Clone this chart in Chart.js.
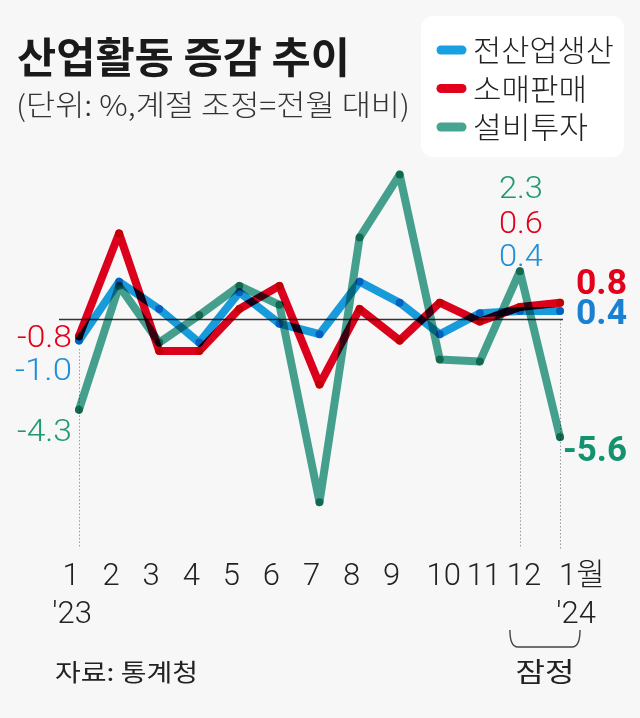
<!DOCTYPE html>
<html>
<head>
<meta charset="utf-8">
<script src="https://cdn.jsdelivr.net/npm/chart.js@4.4.1/dist/chart.umd.min.js"></script>
<style>
html,body{margin:0;padding:0;background:#f7f7f7;}
canvas{display:block;}
</style>
</head>
<body>
<canvas id="c" width="640" height="718"></canvas>
<script>
// ---- data ----
const categories = ['1','2','3','4','5','6','7','8','9','10','11','12','1월'];
const yearLabels = ["'23",'','','','','','','','','','','',"'24"];
const seriesNames = ['전산업생산','소매판매','설비투자'];
const production = [-1.0, 1.8, 0.5, -1.1, 1.3, -0.2, -0.7, 1.8, 0.8, -0.7, 0.3, 0.4, 0.4];
const retail     = [-0.8, 4.1, -1.5, -1.5, 0.5, 1.6, -3.1, 0.5, -1.0, 0.8, -0.1, 0.6, 0.8];
const investment = [-4.3, 1.6, -1.1, 0.2, 1.6, 0.7, -8.7, 3.9, 6.9, -1.9, -2.0, 2.3, -5.6];
const titleText = '산업활동 증감 추이';
const subtitleText = '(단위: %,계절 조정=전월 대비)';
const sourceText = '자료: 통계청';
const provisionalText = '잠정';

// ---- style ----
const C_BLUE = '#18a0e2', C_RED = '#e2001b', C_GREEN = '#46a591';
const T_BLUE = '#1e8fd8', T_RED = '#e2001a', T_GREEN = '#1f9a70';
const B_BLUE = '#1a80d2', B_GREEN = '#12926e';
const NUM = "Roboto, 'Noto Sans CJK KR', sans-serif";
const KR = "'Noto Sans CJK KR', 'Noto Sans', sans-serif";

function txt(ctx, s, x, y, font, color, align, fitW) {
  ctx.save();
  ctx.font = font;
  ctx.fillStyle = color;
  ctx.textBaseline = 'middle';
  ctx.textAlign = 'left';
  const w = ctx.measureText(s).width;
  let sx = 1;
  if (fitW) sx = fitW / w;
  const ww = w * sx;
  let x0 = x;
  if (align === 'center') x0 = x - ww / 2;
  else if (align === 'right') x0 = x - ww;
  ctx.translate(x0, y);
  ctx.scale(sx, 1);
  ctx.fillText(s, 0, 0);
  ctx.restore();
}

const decor = {
  id: 'decor',
  beforeDraw(chart) {
    const ctx = chart.ctx;
    ctx.save();
    ctx.fillStyle = '#f7f7f7';
    ctx.fillRect(0, 0, chart.width, chart.height);
    ctx.restore();
  },
  beforeDatasetsDraw(chart) {
    const ctx = chart.ctx, xs = chart.scales.x, ys = chart.scales.y;
    const bottom = chart.chartArea.bottom - 2;
    ctx.save();
    ctx.strokeStyle = '#9a9a9a';
    ctx.lineWidth = 1;
    ctx.setLineDash([1.5, 2]);
    const guides = [[0, -1.4], [11, -1.4], [12, 0]];
    guides.forEach(([i, v]) => {
      const x = Math.round(xs.getPixelForValue(i)) + 0.5;
      ctx.beginPath();
      ctx.moveTo(x, ys.getPixelForValue(v));
      ctx.lineTo(x, bottom);
      ctx.stroke();
    });
    ctx.restore();
    ctx.save();
    ctx.strokeStyle = '#333';
    ctx.lineWidth = 1.3;
    const y0 = ys.getPixelForValue(0);
    ctx.beginPath();
    ctx.moveTo(xs.getPixelForValue(0) - 20, y0);
    ctx.lineTo(xs.getPixelForValue(12) + 3, y0);
    ctx.stroke();
    ctx.restore();
    ctx.save();
    ctx.globalCompositeOperation = 'multiply';
  },
  afterDatasetsDraw(chart) {
    const ctx = chart.ctx;
    ctx.restore();
    const xs = chart.scales.x, ys = chart.scales.y;
    const X = i => xs.getPixelForValue(i);
    const Y = v => ys.getPixelForValue(v);
    const f1 = (v) => v.toFixed(1);
    const last = categories.length - 1;
    const LF = "300 32px " + NUM;
    const BF = "bold 35px " + NUM;
    const TF = "300 31px " + NUM;

    txt(ctx, titleText, 17, 57, "bold 42px " + KR, '#1a1a1a', 'left', 333);
    txt(ctx, subtitleText, 16, 105, "300 29px " + KR, '#333', 'left', 394);

    ctx.save();
    ctx.fillStyle = '#ffffff';
    ctx.beginPath();
    ctx.roundRect(421, 16, 203, 141, 12);
    ctx.fill();
    ctx.restore();
    const legCols = [C_BLUE, C_RED, C_GREEN];
    const legW = [141, 114, 115];
    seriesNames.forEach((n, k) => {
      const y = 50 + k * 38.5;
      ctx.save();
      ctx.strokeStyle = legCols[k];
      ctx.lineWidth = 9;
      ctx.lineCap = 'round';
      ctx.beginPath();
      ctx.moveTo(441, y);
      ctx.lineTo(462, y);
      ctx.stroke();
      ctx.restore();
      txt(ctx, n, 473, y, "300 30px " + KR, '#222', 'left', legW[k]);
    });

    txt(ctx, f1(retail[0]), X(0) - 7, Y(retail[0]) + 3, LF, T_RED, 'right', 55);
    txt(ctx, f1(production[0]), X(0) - 7, Y(production[0]) + 31, LF, T_BLUE, 'right', 57);
    txt(ctx, f1(investment[0]), X(0) - 7, Y(investment[0]) + 23, LF, T_GREEN, 'right', 55);

    const gy = Y(investment[11]);
    txt(ctx, f1(investment[11]), X(11) + 1, gy - 81, LF, T_GREEN, 'center', 44);
    txt(ctx, f1(retail[11]), X(11) + 1, gy - 46, LF, T_RED, 'center', 44);
    txt(ctx, f1(production[11]), X(11) + 1, gy - 13, LF, T_BLUE, 'center', 44);

    txt(ctx, f1(retail[last]), X(last) + 16, Y(retail[last]) - 17, BF, T_RED, 'left', 51);
    txt(ctx, f1(production[last]), X(last) + 16, Y(production[last]) + 4, BF, B_BLUE, 'left', 51);
    txt(ctx, f1(investment[last]), X(last) + 3, Y(investment[last]) + 15, BF, B_GREEN, 'left', 64);

    categories.forEach((c, i) => {
      if (i === last) {
        txt(ctx, c, X(i) - 1, 577, TF, '#222', 'left');
      } else if (c.length > 1) {
        txt(ctx, c, X(i) + 4, 577, TF, '#222', 'center');
      } else {
        txt(ctx, c, X(i) - 8, 577, TF, '#222', 'center');
      }
    });
    yearLabels.forEach((s, i) => {
      if (!s) return;
      txt(ctx, s, i === last ? X(i) + 16 : X(i) - 7, 615, TF, '#222', 'center');
    });

    const bx1 = X(11) - 10, bx2 = X(last) + 20;
    ctx.save();
    ctx.strokeStyle = '#444';
    ctx.lineWidth = 1.4;
    ctx.beginPath();
    ctx.moveTo(bx1, 630);
    ctx.quadraticCurveTo(bx1, 647, bx1 + 8, 647);
    ctx.lineTo(bx2 - 8, 647);
    ctx.quadraticCurveTo(bx2, 647, bx2, 630);
    ctx.stroke();
    ctx.restore();
    txt(ctx, provisionalText, (bx1 + bx2) / 2, 672, "400 27px " + KR, '#222', 'center', 59);

    txt(ctx, sourceText, 55, 672, "400 24px " + KR, '#222', 'left', 143);
  }
};

function ds(label, data, color) {
  return {
    label, data,
    borderColor: color,
    backgroundColor: color,
    borderWidth: 8,
    borderJoinStyle: 'round',
    borderCapStyle: 'round',
    pointRadius: 4,
    pointBorderWidth: 0,
    pointBackgroundColor: color,
    tension: 0,
    clip: false
  };
}

new Chart(document.getElementById('c'), {
  type: 'line',
  data: {
    labels: categories,
    datasets: [
      ds(seriesNames[2], investment, C_GREEN),
      ds(seriesNames[1], retail, C_RED),
      ds(seriesNames[0], production, C_BLUE)
    ]
  },
  options: {
    responsive: false,
    devicePixelRatio: 1,
    animation: false,
    layout: { padding: { left: 79, right: 80, top: 151.5, bottom: 167.5 } },
    plugins: { legend: { display: false }, title: { display: false }, tooltip: { enabled: false } },
    scales: {
      x: { display: false, offset: false },
      y: { display: false, min: -11, max: 8 }
    }
  },
  plugins: [decor]
});
</script>
</body>
</html>
